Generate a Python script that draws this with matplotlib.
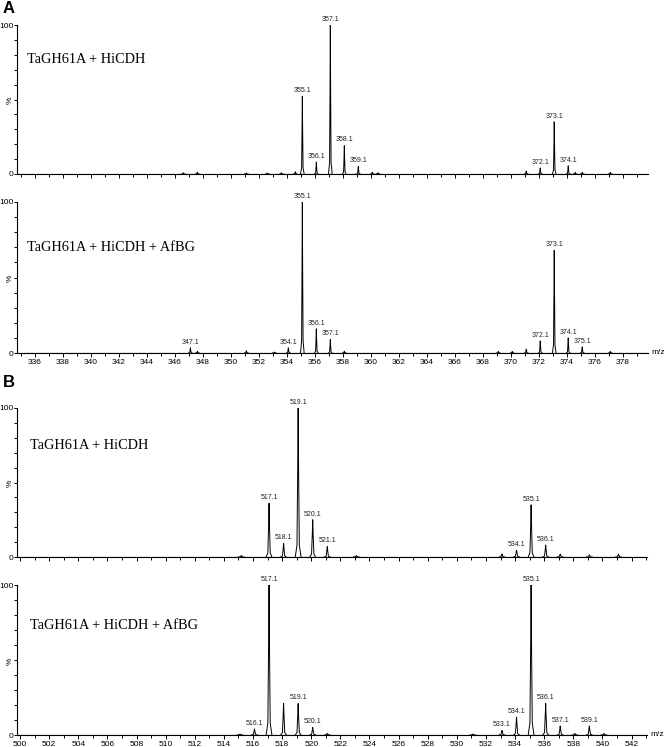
import numpy as np
import matplotlib
matplotlib.use("Agg")
import matplotlib.pyplot as plt
from matplotlib.ticker import MultipleLocator

# peak lists: m/z, relative intensity (%), labelled?
a1_mz = [346.6, 347.6, 351.1, 352.6, 353.6, 354.6, 355.1, 356.1, 357.1, 358.1, 359.1,
         360.1, 360.5, 371.1, 372.1, 373.1, 374.1, 374.6, 375.1, 377.1]
a1_int = [0.8, 1.2, 0.6, 0.6, 0.8, 1.5, 52, 8, 100, 19, 5,
          1.2, 0.8, 2, 4, 35, 5.5, 1, 1, 1]
a1_lab = [355.1, 356.1, 357.1, 358.1, 359.1, 372.1, 373.1, 374.1]

a2_mz = [347.1, 347.6, 351.1, 353.1, 354.1, 355.1, 356.1, 357.1, 358.1,
         369.1, 370.1, 371.1, 372.1, 373.1, 374.1, 375.1, 377.1]
a2_int = [3.4, 1, 1.5, 0.6, 3.4, 100, 16, 9, 1.2,
          1, 1, 2.5, 8, 68, 10, 4, 1]
a2_lab = [347.1, 354.1, 355.1, 356.1, 357.1, 372.1, 373.1, 374.1, 375.1]

b1_mz = [515.2, 517.1, 518.1, 519.1, 520.1, 521.1, 523.1,
         533.1, 534.1, 535.1, 536.1, 537.1, 539.1, 541.1]
b1_int = [1, 36, 9, 100, 25, 7, 1,
          2, 4.5, 35, 8, 2, 1.5, 2]
b1_lab = [517.1, 518.1, 519.1, 520.1, 521.1, 534.1, 535.1, 536.1]

b2_mz = [515.1, 516.1, 517.1, 518.1, 519.1, 520.1, 521.1,
         531.1, 533.1, 534.1, 535.1, 536.1, 537.1, 538.1, 539.1, 540.1]
b2_int = [0.6, 4, 100, 21, 21, 5, 1,
          0.6, 3, 12, 100, 21, 6, 1, 6, 1]
b2_lab = [516.1, 517.1, 519.1, 520.1, 533.1, 534.1, 535.1, 536.1, 537.1, 539.1]

texts = ["TaGH61A + HiCDH", "TaGH61A + HiCDH + AfBG"]

W, H = 664, 747
fig = plt.figure(figsize=(W / 100, H / 100), dpi=100)


def px_axes(left, right, top, bottom):
    return fig.add_axes([left / W, 1 - bottom / H, (right - left) / W, (bottom - top) / H])


def spectrum(ax, mz, inten, labels, xlim, hw, text, text_y, text_x, show_x):
    # baseline plus one narrow peak per entry
    ax.plot(xlim, [0, 0], color="black", lw=0.8)
    for m, h in zip(mz, inten):
        ax.plot([m - hw, m - hw * 0.4, m - hw * 0.15, m, m + hw * 0.15, m + hw * 0.4, m + hw],
                [0, h * 0.08, h * 0.6, h, h * 0.6, h * 0.08, 0], color="black", lw=0.7)
        if m in labels:
            ax.text(m, h + 1.5, "%.1f" % m, ha="center", va="bottom",
                    fontsize=5, color="#222222", family="Liberation Sans")
    ax.set_xlim(*xlim)
    ax.set_ylim(0, 100)
    for s in ["top", "right"]:
        ax.spines[s].set_visible(False)
    ax.spines["left"].set_linewidth(0.8)
    ax.spines["bottom"].set_linewidth(0.8)
    ax.xaxis.set_major_locator(MultipleLocator(2))
    ax.xaxis.set_minor_locator(MultipleLocator(1))
    ax.set_yticks([0, 50, 100])
    ax.set_yticklabels(["0", "%", "100"])
    ax.get_yticklabels()[1].set_rotation(90)
    ax.yaxis.set_minor_locator(MultipleLocator(10))
    ax.tick_params(axis="both", which="major", length=3, width=0.7,
                   labelsize=6, pad=1, colors="black")
    ax.tick_params(axis="both", which="minor", length=2.5, width=0.7)
    ax.tick_params(axis="y", which="major", length=2.2, pad=0.2)
    if not show_x:
        ax.tick_params(axis="x", labelbottom=False)
    for lab in ax.get_xticklabels() + ax.get_yticklabels():
        lab.set_family("Liberation Sans")
    ax.text(text_x, text_y, text, transform=ax.transAxes, ha="left", va="center",
            fontsize=10.3, family="Liberation Serif")
    ax.patch.set_alpha(0)


xa = (334.71, 379.8)
xb = (499.79, 543.06)

ax1 = px_axes(17, 648, 25, 174)
spectrum(ax1, a1_mz, a1_int, a1_lab, xa, 0.13, texts[0], 0.77, 0.016, False)
ax2 = px_axes(17, 648, 202, 353)
spectrum(ax2, a2_mz, a2_int, a2_lab, xa, 0.13, texts[1], 0.70, 0.016, True)
ax3 = px_axes(17, 647, 408, 557)
spectrum(ax3, b1_mz, b1_int, b1_lab, xb, 0.2, texts[0], 0.745, 0.02, False)
ax4 = px_axes(17, 647, 585, 735)
spectrum(ax4, b2_mz, b2_int, b2_lab, xb, 0.2, texts[1], 0.733, 0.02, True)

for ax in (ax2, ax4):
    ax.text(1.005, 0, "m/z", transform=ax.transAxes, ha="left", va="center",
            fontsize=6, family="Liberation Sans")

fig.text(3 / W, 1 - 1 / H, "A", ha="left", va="top", fontsize=12, weight="bold",
         family="Liberation Sans")
fig.text(3 / W, 1 - 375 / H, "B", ha="left", va="top", fontsize=12, weight="bold",
         family="Liberation Sans")

fig.savefig("out.png", dpi=100)
